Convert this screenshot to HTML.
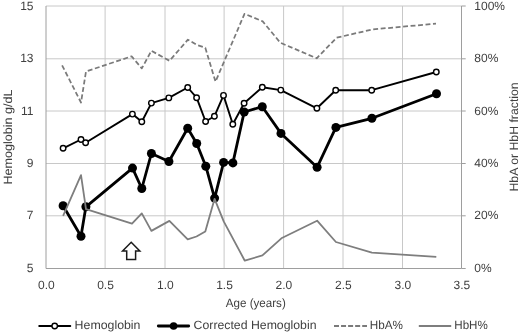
<!DOCTYPE html>
<html><head><meta charset="utf-8"><title>Hemoglobin chart</title>
<style>
html,body{margin:0;padding:0;background:#fff;}
body{width:520px;height:334px;overflow:hidden;}
svg{display:block;}
text{text-rendering:geometricPrecision;font-family:"Liberation Sans",sans-serif;font-size:12px;fill:#404040;}
</style></head><body>
<svg width="520" height="334" viewBox="0 0 520 334">
<rect width="520" height="334" fill="#fff"/>

<g stroke="#c8c8c8" stroke-width="1" fill="none">
<line x1="105.1" y1="6.0" x2="105.1" y2="268.5"/>
<line x1="165.0" y1="6.0" x2="165.0" y2="268.5"/>
<line x1="224.1" y1="6.0" x2="224.1" y2="268.5"/>
<line x1="283.6" y1="6.0" x2="283.6" y2="268.5"/>
<line x1="343.0" y1="6.0" x2="343.0" y2="268.5"/>
<line x1="402.5" y1="6.0" x2="402.5" y2="268.5"/>
<line x1="46.0" y1="6.0" x2="461.5" y2="6.0"/>
<line x1="46.0" y1="58.8" x2="461.5" y2="58.8"/>
<line x1="46.0" y1="111.0" x2="461.5" y2="111.0"/>
<line x1="46.0" y1="163.5" x2="461.5" y2="163.5"/>
<line x1="46.0" y1="215.8" x2="461.5" y2="215.8"/>
</g>
<g stroke="#9e9e9e" stroke-width="1" fill="none">
<line x1="46.0" y1="6.0" x2="46.0" y2="268.5"/>
<line x1="46.0" y1="268.5" x2="461.5" y2="268.5"/>
<line x1="461.5" y1="6.0" x2="461.5" y2="268.5"/>
<line x1="461.5" y1="6.0" x2="465.7" y2="6.0"/>
<line x1="461.5" y1="58.8" x2="465.7" y2="58.8"/>
<line x1="461.5" y1="111.0" x2="465.7" y2="111.0"/>
<line x1="461.5" y1="163.5" x2="465.7" y2="163.5"/>
<line x1="461.5" y1="215.8" x2="465.7" y2="215.8"/>
<line x1="461.5" y1="268.5" x2="465.7" y2="268.5"/>
</g>
<polyline points="63.1,148.3 81.0,139.5 85.6,142.8 132.4,114.1 141.8,121.7 151.4,103.1 168.8,97.9 187.7,87.5 196.6,97.7 205.6,121.5 214.4,116.3 223.5,95.4 232.8,124.3 244.1,103.2 262.3,87.3 280.8,90.1 316.9,108.3 335.7,90.2 371.7,90.2 436.3,72.0" fill="none" stroke="#000" stroke-width="1.9" stroke-linejoin="round"/>
<g fill="#fff" stroke="#000" stroke-width="1.4">
<circle cx="63.1" cy="148.3" r="2.75"/>
<circle cx="81.0" cy="139.5" r="2.75"/>
<circle cx="85.6" cy="142.8" r="2.75"/>
<circle cx="132.4" cy="114.1" r="2.75"/>
<circle cx="141.8" cy="121.7" r="2.75"/>
<circle cx="151.4" cy="103.1" r="2.75"/>
<circle cx="168.8" cy="97.9" r="2.75"/>
<circle cx="187.7" cy="87.5" r="2.75"/>
<circle cx="196.6" cy="97.7" r="2.75"/>
<circle cx="205.6" cy="121.5" r="2.75"/>
<circle cx="214.4" cy="116.3" r="2.75"/>
<circle cx="223.5" cy="95.4" r="2.75"/>
<circle cx="232.8" cy="124.3" r="2.75"/>
<circle cx="244.1" cy="103.2" r="2.75"/>
<circle cx="262.3" cy="87.3" r="2.75"/>
<circle cx="280.8" cy="90.1" r="2.75"/>
<circle cx="316.9" cy="108.3" r="2.75"/>
<circle cx="335.7" cy="90.2" r="2.75"/>
<circle cx="371.7" cy="90.2" r="2.75"/>
<circle cx="436.3" cy="72.0" r="2.75"/>
</g>
<polyline points="63.1,205.8 81.0,236.3 85.9,206.8 132.5,168.1 141.8,188.5 151.4,153.5 168.9,161.5 187.7,128.3 196.7,143.5 205.8,166.2 214.6,198.1 223.6,162.4 232.9,162.9 244.2,112.0 262.3,106.7 281.0,133.4 317.1,167.3 335.9,127.4 371.9,118.3 436.5,93.8" fill="none" stroke="#000" stroke-width="2.8" stroke-linejoin="round"/>
<g fill="#000">
<circle cx="63.1" cy="205.8" r="4.5"/>
<circle cx="81.0" cy="236.3" r="4.5"/>
<circle cx="85.9" cy="206.8" r="4.5"/>
<circle cx="132.5" cy="168.1" r="4.5"/>
<circle cx="141.8" cy="188.5" r="4.5"/>
<circle cx="151.4" cy="153.5" r="4.5"/>
<circle cx="168.9" cy="161.5" r="4.5"/>
<circle cx="187.7" cy="128.3" r="4.5"/>
<circle cx="196.7" cy="143.5" r="4.5"/>
<circle cx="205.8" cy="166.2" r="4.5"/>
<circle cx="214.6" cy="198.1" r="4.5"/>
<circle cx="223.6" cy="162.4" r="4.5"/>
<circle cx="232.9" cy="162.9" r="4.5"/>
<circle cx="244.2" cy="112.0" r="4.5"/>
<circle cx="262.3" cy="106.7" r="4.5"/>
<circle cx="281.0" cy="133.4" r="4.5"/>
<circle cx="317.1" cy="167.3" r="4.5"/>
<circle cx="335.9" cy="127.4" r="4.5"/>
<circle cx="371.9" cy="118.3" r="4.5"/>
<circle cx="436.5" cy="93.8" r="4.5"/>
</g>
<polyline points="62.1,65.3 81.0,102.5 86.0,71.5 131.6,56.3 141.8,68.4 151.4,50.8 169.5,60.8 187.9,39.7 196.7,44.9 205.3,47.7 215.5,81.7 244.5,13.8 262.7,21.4 280.3,42.7 316.7,58.3 336.6,37.7 372.7,29.4 436.0,23.7" fill="none" stroke="#7a7a7a" stroke-width="1.75" stroke-dasharray="4.9 2.6" stroke-linejoin="round"/>
<polyline points="63.1,215.9 81.0,175.1 86.0,209.1 132.0,223.6 141.8,213.4 151.4,230.9 169.4,220.9 187.7,239.3 196.5,236.5 205.3,231.5 214.6,198.8 223.7,221.4 244.8,260.7 262.4,255.4 281.4,238.3 317.1,220.7 335.9,242.0 371.9,252.6 436.3,256.9" fill="none" stroke="#7e7e7e" stroke-width="1.8" stroke-linejoin="round"/>
<path d="M131.2 242.3 L139.8 250.9 L135.6 250.9 L135.6 259.4 L126.7 259.4 L126.7 250.9 L122.6 250.9 Z" fill="#fff" stroke="#1a1a1a" stroke-width="1.5" stroke-linejoin="miter"/>
<text x="33.5" y="9.6" text-anchor="end">15</text>
<text x="33.5" y="62.4" text-anchor="end">13</text>
<text x="33.5" y="114.5" text-anchor="end">11</text>
<text x="33.5" y="167.1" text-anchor="end">9</text>
<text x="33.5" y="219.4" text-anchor="end">7</text>
<text x="33.5" y="272.1" text-anchor="end">5</text>
<text x="474.3" y="9.6">100%</text>
<text x="474.3" y="62.4">80%</text>
<text x="474.3" y="114.5">60%</text>
<text x="474.3" y="167.1">40%</text>
<text x="474.3" y="219.4">20%</text>
<text x="474.3" y="272.1">0%</text>
<text x="46.4" y="289.3" text-anchor="middle">0.0</text>
<text x="105.5" y="289.3" text-anchor="middle">0.5</text>
<text x="165.4" y="289.3" text-anchor="middle">1.0</text>
<text x="224.5" y="289.3" text-anchor="middle">1.5</text>
<text x="283.9" y="289.3" text-anchor="middle">2.0</text>
<text x="343.4" y="289.3" text-anchor="middle">2.5</text>
<text x="402.9" y="289.3" text-anchor="middle">3.0</text>
<text x="461.9" y="289.3" text-anchor="middle">3.5</text>
<text x="255.8" y="307.1" text-anchor="middle" textLength="60" lengthAdjust="spacingAndGlyphs">Age (years)</text>
<text transform="translate(11.8,137.0) rotate(-90)" text-anchor="middle" textLength="95" lengthAdjust="spacingAndGlyphs">Hemoglobin g/dL</text>
<text transform="translate(517.6,136.9) rotate(-90)" text-anchor="middle" textLength="109.2" lengthAdjust="spacingAndGlyphs">HbA or HbH fraction</text>
<line x1="39.2" y1="326.0" x2="70.3" y2="326.0" stroke="#000" stroke-width="1.9" stroke-linecap="round"/><circle cx="54.7" cy="326.0" r="2.75" fill="#fff" stroke="#000" stroke-width="1.4"/>
<text x="74.6" y="329.2" textLength="65.9" lengthAdjust="spacingAndGlyphs">Hemoglobin</text>
<line x1="158.3" y1="326.0" x2="188.7" y2="326.0" stroke="#000" stroke-width="2.8" stroke-linecap="round"/><circle cx="173.6" cy="326.0" r="3.8" fill="#000"/>
<text x="193.6" y="329.2" textLength="122.9" lengthAdjust="spacingAndGlyphs">Corrected Hemoglobin</text>
<line x1="334" y1="326.0" x2="367" y2="326.0" stroke="#7a7a7a" stroke-width="1.9" stroke-dasharray="5 2.05"/>
<text x="369.7" y="329.2" textLength="33.2" lengthAdjust="spacingAndGlyphs">HbA%</text>
<line x1="418.8" y1="326.0" x2="451.2" y2="326.0" stroke="#7e7e7e" stroke-width="1.9"/>
<text x="454.3" y="329.2" textLength="33.5" lengthAdjust="spacingAndGlyphs">HbH%</text>
</svg></body></html>
